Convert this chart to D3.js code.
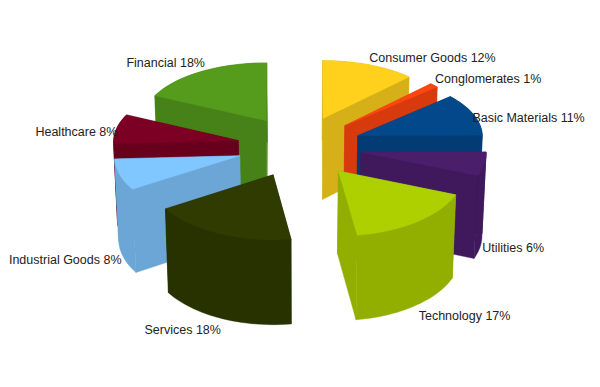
<!DOCTYPE html>
<html>
<head>
  <meta charset="UTF-8">
  <title>Sector pie</title>
  <script src="https://d3js.org/d3.v7.min.js"></script>
  <style>
    html, body { margin: 0; padding: 0; background: #fff; }
    svg { display: block; }
    text { font-family: "Liberation Sans", Arial, sans-serif; font-size: 12.5px; fill: #222; }
  </style>
</head>
<body>
<svg id="chart" width="600" height="387"></svg>
<script>

// pie runs clockwise from 12 o'clock; shares estimated so they round to the printed labels
const sectors = ["Consumer Goods", "Conglomerates", "Basic Materials", "Utilities", "Technology", "Services", "Industrial Goods", "Healthcare", "Financial"];
const shares = [12.4, 1.2, 11.3, 6.2, 16.6, 18.4, 8.1, 7.8, 18.0];
const sectorColors = ["#ffd11c", "#ff4510", "#03488a", "#4b1e6c", "#aed000", "#2f3b00", "#80c6ff", "#7c0023", "#559b1c"];
// hand placed label offsets from the rim anchor
const labelDx = [0, 1, -1, 2, 4, 0, -2, 1, 4];
const labelDy = [-7, -6.5, 3, 1.5, 10, 11, 2.5, 2.5, -9];

const cx = 299.5, cy = 146.5;
const radius = 124, explode = 62, tilt = 0.49, depth = 80;

const svg = d3.select("#chart");
const color = d3.scaleOrdinal().domain(sectors).range(sectorColors);

// mild perspective: things nearer the viewer are drawn a bit bigger
const nearX = d3.scaleLinear().domain([-187, 187]).range([0.985, 1.03]);
const nearY = d3.scaleLinear().domain([-187, 187]).range([0.965, 1.06]);
const nearDepth = d3.scaleLinear().domain([-187, 187]).range([0.99, 1.06]);
const lowScale = d3.scaleLinear().domain([0, 1]).range([1, 0.978]);
const percent = d3.format(".0f");

function project(wx, wy, z) {
  return [
    cx + nearX(wy) * wx * lowScale(z),
    cy + nearY(wy) * tilt * wy + nearDepth(wy) * depth * z
  ];
}

const pie = d3.pie().sort(null).value(d => d.share);
const slices = pie(sectors.map((s, i) => ({ sector: s, share: shares[i], dx: labelDx[i], dy: labelDy[i] })));

const outline = d3.line();

slices.forEach(d => {
  d.mid = (d.startAngle + d.endAngle) / 2;
  d.ox = explode * Math.sin(d.mid);
  d.oy = -explode * Math.cos(d.mid);
});

function apex(d, z) {
  return project(d.ox, d.oy, z);
}

function rimPoint(d, a, z) {
  return project(d.ox + radius * Math.sin(a), d.oy - radius * Math.cos(a), z);
}

function rimAngles(a0, a1) {
  const n = Math.max(2, Math.ceil((a1 - a0) / 0.04));
  return d3.range(n + 1).map(i => a0 + (a1 - a0) * i / n);
}

function wall(d, a) {
  return outline([apex(d, 0), rimPoint(d, a, 0), rimPoint(d, a, 1), apex(d, 1)]) + "Z";
}

function rim(d, a0, a1) {
  const angles = rimAngles(a0, a1);
  const upper = angles.map(a => rimPoint(d, a, 0));
  const lower = angles.slice().reverse().map(a => rimPoint(d, a, 1));
  return outline(upper.concat(lower)) + "Z";
}

function topFace(d) {
  const pts = rimAngles(d.startAngle, d.endAngle).map(a => rimPoint(d, a, 0));
  return outline([apex(d, 0)].concat(pts)) + "Z";
}

// split the rim where it turns from back to front
function rimParts(d) {
  const cuts = [d.startAngle, Math.PI / 2, Math.PI * 1.5, d.endAngle]
    .filter(a => a >= d.startAngle && a <= d.endAngle).sort((a, b) => a - b);
  const parts = [];
  for (let i = 0; i < cuts.length - 1; i++) {
    const m = (cuts[i] + cuts[i + 1]) / 2;
    parts.push({ a0: cuts[i], a1: cuts[i + 1], front: Math.cos(m) < 0 });
  }
  return parts;
}

// painter's order: farthest exploded slice first
const order = slices.slice().sort((a, b) => a.oy - b.oy);

order.forEach(d => {
  const g = svg.append("g").attr("class", "slice");
  const fill = color(d.data.sector);
  const side = d3.rgb(fill);
  const wallFill = d3.rgb(side.r * 0.84, side.g * 0.84, side.b * 0.84).formatHex();

  const add = path => g.append("path").attr("d", path).attr("fill", wallFill).attr("stroke", wallFill).attr("stroke-width", 0.4);

  rimParts(d).filter(p => !p.front).forEach(p => add(rim(d, p.a0, p.a1)));
  add(wall(d, d.startAngle));
  add(wall(d, d.endAngle));
  rimParts(d).filter(p => p.front).forEach(p => add(rim(d, p.a0, p.a1)));

  g.append("path").attr("d", topFace(d)).attr("fill", fill).attr("stroke", fill).attr("stroke-width", 0.4);
});

// labels hang off the rim: back slices from the top edge, front slices from the bottom edge
svg.selectAll("text.label")
  .data(slices)
  .enter()
  .append("text")
  .attr("class", "label")
  .attr("x", d => rimPoint(d, d.mid, Math.cos(d.mid) > 0 ? 0 : 1)[0] + d.data.dx)
  .attr("y", d => rimPoint(d, d.mid, Math.cos(d.mid) > 0 ? 0 : 1)[1] + d.data.dy)
  .attr("dy", "0.35em")
  .attr("text-anchor", d => Math.sin(d.mid) >= 0 ? "start" : "end")
  .text(d => d.data.sector + " " + percent(d.data.share) + "%");

</script>
</body>
</html>
